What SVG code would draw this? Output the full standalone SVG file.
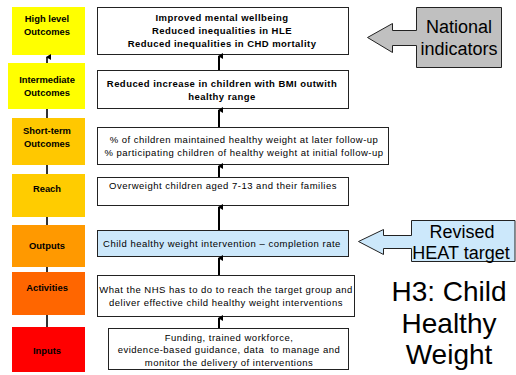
<svg xmlns="http://www.w3.org/2000/svg" width="516" height="375" viewBox="0 0 516 375">
  <style>
    text { font-family: "Liberation Sans", Arial, sans-serif; fill: #000; text-anchor: middle; }
    .lvl text { font-size: 9.4px; font-weight: bold; }
    .lvl rect { stroke: none; }
    .box rect { fill: #fff; stroke: #222; stroke-width: 1; }
    .box text { font-size: 9.5px; letter-spacing: 0.5px; white-space: pre; }
    .box.b text { font-weight: bold; letter-spacing: 0.45px; }
    .box.blue rect { fill: #cce8fb; }
    .link { stroke: #000; stroke-width: 2; fill: none; }
    .llink { stroke: #333; stroke-width: 2; fill: none; }
    .callout { stroke: #222; stroke-width: 1; }
    .big { font-size: 28px; }
    .co { font-size: 18px; }
  </style>
  <defs>
    <marker id="up" markerWidth="6" markerHeight="6" refX="3" refY="1" orient="auto-start-reverse" markerUnits="userSpaceOnUse" viewBox="0 0 6 6">
      <path d="M0,5 L3,0 L6,5 Z" fill="#000"/>
    </marker>
  </defs>

  <rect width="516" height="375" fill="#fff"/>

  <!-- level labels down the left side -->
  <g class="lvl" id="lvl-high">
    <rect x="12" y="7" width="73" height="48" fill="#ffff00"/>
    <text x="47" y="22">High level</text>
    <text x="47" y="35">Outcomes</text>
  </g>
  <g class="lvl" id="lvl-intermediate">
    <rect x="8" y="63" width="77" height="46" fill="#ffff00"/>
    <text x="47" y="83">Intermediate</text>
    <text x="47" y="96">Outcomes</text>
  </g>
  <g class="lvl" id="lvl-short">
    <rect x="12" y="118" width="73" height="47" fill="#ffc800"/>
    <text x="47" y="134">Short-term</text>
    <text x="47" y="147">Outcomes</text>
  </g>
  <g class="lvl" id="lvl-reach">
    <rect x="12" y="174" width="73" height="43" fill="#ffcc00"/>
    <text x="47" y="192">Reach</text>
  </g>
  <g class="lvl" id="lvl-outputs">
    <rect x="12" y="225" width="73" height="42" fill="#ff9900"/>
    <text x="47" y="249">Outputs</text>
  </g>
  <g class="lvl" id="lvl-activities">
    <rect x="12" y="272" width="73" height="43" fill="#ff6600"/>
    <text x="47" y="291">Activities</text>
  </g>
  <g class="lvl" id="lvl-inputs">
    <rect x="12" y="327" width="73" height="45" fill="#ff0000"/>
    <text x="47" y="354">Inputs</text>
  </g>

  <!-- logic-model boxes -->
  <g class="box b" id="box-high">
    <rect x="97.5" y="7.5" width="251" height="47"/>
    <text x="222" y="21">Improved mental wellbeing</text>
    <text x="222" y="34">Reduced inequalities in HLE</text>
    <text x="222" y="47">Reduced inequalities in CHD mortality</text>
  </g>
  <g class="box b" id="box-intermediate">
    <rect x="97.5" y="70.5" width="251" height="38"/>
    <text x="222" y="87">Reduced increase in children with BMI outwith</text>
    <text x="222" y="100">healthy range</text>
  </g>
  <g class="box" id="box-short">
    <rect x="97.5" y="127.5" width="291" height="37"/>
    <text x="244" y="143">% of children maintained healthy weight at later follow-up</text>
    <text x="244" y="156">% participating children of healthy weight at initial follow-up</text>
  </g>
  <g class="box" id="box-reach">
    <rect x="97.5" y="177.5" width="251" height="28"/>
    <text x="223" y="189">Overweight children aged 7-13 and their families</text>
  </g>
  <g class="box blue" id="box-outputs">
    <rect x="97.5" y="230.5" width="251" height="26"/>
    <text x="222" y="247">Child healthy weight intervention – completion rate</text>
  </g>
  <g class="box" id="box-activities">
    <rect x="97.5" y="275.5" width="257" height="41"/>
    <text x="226" y="293">What the NHS has to do to reach the target group and</text>
    <text x="226" y="306">deliver effective child healthy weight interventions</text>
  </g>
  <g class="box" id="box-inputs">
    <rect x="108.5" y="328.5" width="240" height="41"/>
    <text x="229" y="341">Funding, trained workforce,</text>
    <text x="229" y="353">evidence-based guidance, data  to manage and</text>
    <text x="229" y="366">monitor the delivery of interventions</text>
  </g>

  <!-- callouts -->
  <g id="national-indicators">
    <path class="callout" fill="#c0c0c0" d="M416.5,7.5 H501.5 V67.5 H416.5 V45.5 H392.5 V52.5 L367.5,37.5 L392.5,23.5 V30.5 H416.5 Z"/>
    <text class="co" x="459" y="33">National</text>
    <text class="co" x="459" y="55">indicators</text>
  </g>
  <g id="revised-heat">
    <path class="callout" fill="#cce8fb" d="M411.5,220.5 H515 V261.5 H411.5 V248.5 H383.5 V254.5 L358.5,241.5 L383.5,229.5 V235.5 H411.5 Z"/>
    <text class="co" x="462" y="238">Revised</text>
    <text class="co" x="461" y="259">HEAT target</text>
  </g>
  <g id="title">
    <text class="big" x="449" y="301">H3: Child</text>
    <text class="big" x="449" y="333">Healthy</text>
    <text class="big" x="449" y="364">Weight</text>
  </g>

  <!-- connectors -->
  <g id="connectors">
    <line class="llink" x1="47" y1="63" x2="47" y2="57" marker-end="url(#up)"/>
    <line class="llink" x1="47" y1="109" x2="47" y2="118"/>
    <line class="llink" x1="47" y1="165" x2="47" y2="174"/>
    <line class="llink" x1="47" y1="217" x2="47" y2="225"/>
    <line class="llink" x1="47" y1="267" x2="47" y2="272"/>
    <line class="llink" x1="47" y1="315" x2="47" y2="327"/>

    <line class="link" x1="219" y1="70" x2="219" y2="56" marker-end="url(#up)"/>
    <line class="link" x1="219" y1="127" x2="219" y2="110" marker-end="url(#up)"/>
    <line class="link" x1="219" y1="177" x2="219" y2="166" marker-end="url(#up)"/>
    <line class="link" x1="219" y1="230" x2="219" y2="207" marker-end="url(#up)"/>
    <line class="link" x1="219" y1="275" x2="219" y2="258" marker-end="url(#up)"/>
    <line class="link" x1="219" y1="328" x2="219" y2="318" marker-end="url(#up)"/>
  </g>
</svg>
